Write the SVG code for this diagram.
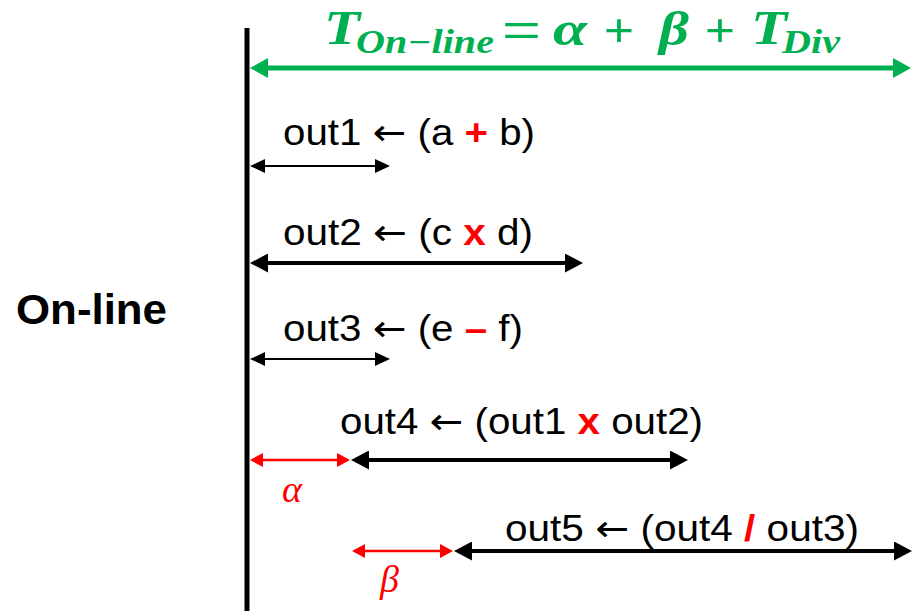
<svg xmlns="http://www.w3.org/2000/svg" width="912" height="611" viewBox="0 0 912 611">
<style>
.t{font-family:"Liberation Sans",Arial,sans-serif;font-size:36px;fill:#000}
.ar{font-family:"DejaVu Sans",sans-serif;font-weight:normal}
.op{fill:#FF0000;font-weight:bold}
.m{font-family:"Liberation Serif","Times New Roman",serif;fill:#00B050;font-weight:bold}
.mi{font-style:italic}
.ms{font-family:"Liberation Sans",Arial,sans-serif;fill:#00B050;font-size:46px}
.g{stroke:#00B050;stroke-width:5;fill:none}
.bs{stroke:#000;stroke-width:2;fill:none}
.bb{stroke:#000;stroke-width:4;fill:none}
.rs{stroke:#FF0000;stroke-width:2.5;fill:none}
.greek{font-family:"Liberation Serif","Times New Roman",serif;font-style:italic;fill:#FF0000;font-size:38px}
</style>
<defs>
<marker id="mg" viewBox="0 0 18 20" refX="1" refY="10" markerWidth="18" markerHeight="20" markerUnits="userSpaceOnUse" orient="auto-start-reverse"><path d="M0,0 L18,10 L0,20 z" fill="#00B050"/></marker>
<marker id="ms" viewBox="0 0 15 14" refX="1" refY="7" markerWidth="15" markerHeight="14" markerUnits="userSpaceOnUse" orient="auto-start-reverse"><path d="M0,0 L15,7 L0,14 z" fill="#000"/></marker>
<marker id="mb" viewBox="0 0 18 19" refX="1" refY="9.5" markerWidth="18" markerHeight="19" markerUnits="userSpaceOnUse" orient="auto-start-reverse"><path d="M0,0 L18,9.5 L0,19 z" fill="#000"/></marker>
<marker id="mr" viewBox="0 0 13 14" refX="1" refY="7" markerWidth="13" markerHeight="14" markerUnits="userSpaceOnUse" orient="auto-start-reverse"><path d="M0,0 L13,7 L0,14 z" fill="#FF0000"/></marker>
</defs>

<g id="timeline">
<line x1="247" y1="28" x2="247" y2="611" stroke="#000" stroke-width="5"/>
</g>

<g id="label-online">
<text x="16" y="324" font-family="Liberation Sans, Arial, sans-serif" font-size="43" font-weight="bold" textLength="151" lengthAdjust="spacingAndGlyphs">On-line</text>
</g>

<g id="title">
<text class="m mi" x="324" y="44" font-size="48" textLength="36" lengthAdjust="spacingAndGlyphs">T</text>
<text class="m mi" x="356" y="53" font-size="33" textLength="138" lengthAdjust="spacingAndGlyphs">On−line</text>
<text class="ms" x="502" y="46" textLength="39" lengthAdjust="spacingAndGlyphs">=</text>
<text class="m mi" x="553" y="45" font-size="48" textLength="34" lengthAdjust="spacingAndGlyphs">α</text>
<text class="ms" x="604" y="46" textLength="30" lengthAdjust="spacingAndGlyphs">+</text>
<text class="m mi" x="659" y="45" font-size="48" textLength="30" lengthAdjust="spacingAndGlyphs">β</text>
<text class="ms" x="705" y="46" textLength="30" lengthAdjust="spacingAndGlyphs">+</text>
<text class="m mi" x="751" y="44" font-size="48" textLength="36" lengthAdjust="spacingAndGlyphs">T</text>
<text class="m mi" x="782" y="53" font-size="33" textLength="58" lengthAdjust="spacingAndGlyphs">Div</text>
</g>

<g id="op1">
<text class="t" x="283" y="145" textLength="252" lengthAdjust="spacingAndGlyphs">out1 <tspan class="ar">←</tspan> (a <tspan class="op">+</tspan> b)</text>
</g>
<g id="op2">
<text class="t" x="283" y="245" textLength="250" lengthAdjust="spacingAndGlyphs">out2 <tspan class="ar">←</tspan> (c <tspan class="op">x</tspan> d)</text>
</g>
<g id="op3">
<text class="t" x="283" y="341" textLength="240" lengthAdjust="spacingAndGlyphs">out3 <tspan class="ar">←</tspan> (e <tspan class="op">–</tspan> f)</text>
</g>
<g id="op4">
<text class="t" x="340" y="434" textLength="363" lengthAdjust="spacingAndGlyphs">out4 <tspan class="ar">←</tspan> (out1 <tspan class="op">x</tspan> out2)</text>
</g>
<g id="op5">
<text class="t" x="505" y="541" textLength="354" lengthAdjust="spacingAndGlyphs">out5 <tspan class="ar">←</tspan> (out4 <tspan class="op">/</tspan> out3)</text>
</g>

<g id="alpha">
<text class="greek" x="282" y="502">α</text>
</g>
<g id="beta">
<text class="greek" x="380" y="592">β</text>
</g>

<g id="connectors">
<line class="g" x1="267" y1="68" x2="894" y2="68" marker-start="url(#mg)" marker-end="url(#mg)"/>
<line class="bs" x1="264" y1="166" x2="376" y2="166" marker-start="url(#ms)" marker-end="url(#ms)"/>
<line class="bb" x1="267" y1="263" x2="566" y2="263" marker-start="url(#mb)" marker-end="url(#mb)"/>
<line class="bs" x1="264" y1="359" x2="376" y2="359" marker-start="url(#ms)" marker-end="url(#ms)"/>
<line class="rs" x1="262" y1="460" x2="338" y2="460" marker-start="url(#mr)" marker-end="url(#mr)"/>
<line class="bb" x1="368" y1="460" x2="671" y2="460" marker-start="url(#mb)" marker-end="url(#mb)"/>
<line class="rs" x1="364" y1="551" x2="441" y2="551" marker-start="url(#mr)" marker-end="url(#mr)"/>
<line class="bb" x1="471" y1="551" x2="895" y2="551" marker-start="url(#mb)" marker-end="url(#mb)"/>
</g>
</svg>
